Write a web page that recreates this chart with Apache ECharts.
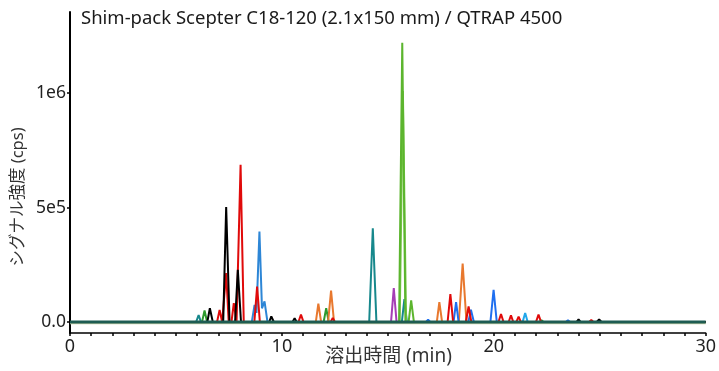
<!DOCTYPE html>
<html><head><meta charset="utf-8">
<script src="https://cdn.jsdelivr.net/npm/echarts@6/dist/echarts.min.js"></script>
<style>html,body{margin:0;padding:0;background:#fff}#c{width:719px;height:371px}</style>
</head><body><div id="c"></div>
<script>
const titleText = 'Shim-pack Scepter C18-120 (2.1x150 mm) / QTRAP 4500';
const xName = '溶出時間 (min)';
const yName = 'シグナル強度 (cps)';
const xTickValues = [0, 10, 20, 30];
const yTickValues = [0, 500000, 1000000];
const yTickLabels = ['0.0', '5e5', '1e6'];

// traces: [retention time (min), intensity (cps)]
const black = [[0,0],[6.48,0],[6.6,60000],[6.74,0],[7.23,0],[7.37,503000],[7.53,0],[7.79,0],[7.92,228000],[8.07,0],[9.4,0],[9.5,25000],[9.62,0],[10.5,0],[10.6,16000],[10.7,0],[23.9,0],[24.0,12000],[24.1,0],[24.86,0],[24.97,12000],[25.08,0],[30,0]];
const red = [[0,0],[6.94,0],[7.06,53000],[7.18,0],[7.25,0],[7.37,214000],[7.49,0],[7.62,0],[7.73,83000],[7.86,0],[7.91,0],[8.05,687000],[8.2,0],[8.7,0],[8.83,155000],[8.96,0],[10.78,0],[10.9,32000],[11.02,0],[12.3,0],[12.4,18000],[12.5,0],[17.82,0],[17.95,122000],[18.08,0],[18.68,0],[18.81,68000],[18.94,0],[20.22,0],[20.34,35000],[20.46,0],[20.7,0],[20.81,29000],[20.92,0],[21.06,0],[21.17,24000],[21.28,0],[21.99,0],[22.11,32000],[22.23,0],[24.5,0],[24.6,9000],[24.7,0],[30,0]];
const steelBlue = [[0,0],[8.58,0],[8.71,75000],[8.8,40000],[8.94,396000],[9.06,60000],[9.18,90000],[9.32,0],[30,0]];
const lightBlue = [[0,0],[21.36,0],[21.48,39000],[21.6,0],[30,0]];
const blue = [[0,0],[16.8,0],[16.9,10000],[17.0,0],[18.1,0],[18.22,87000],[18.34,0],[18.8,0],[18.92,54000],[19.06,0],[19.84,0],[19.99,141000],[20.14,0],[23.4,0],[23.5,8000],[23.6,0],[30,0]];
const teal = [[0,0],[5.95,0],[6.07,30000],[6.18,0],[14.12,0],[14.29,410000],[14.46,0],[15.66,0],[15.78,100000],[15.9,0],[30,0]];
const green = [[0,0],[6.23,0],[6.35,50000],[6.47,0],[11.97,0],[12.09,61000],[12.21,0],[22.15,0],[22.25,8000],[22.35,0],[30,0]];
const lightGreen = [[0,0],[15.53,0],[15.68,1221000],[15.83,0],[15.98,0],[16.1,95000],[16.23,0],[30,0]];
const lightGreen2 = [[0,0],[15.56,0],[15.71,1010000],[15.86,0],[30,0]];
const orange = [[0,0],[11.6,0],[11.72,80000],[11.85,0],[12.18,0],[12.32,137000],[12.46,0],[17.31,0],[17.43,87000],[17.56,0],[18.35,0],[18.53,255000],[18.71,0],[30,0]];
const purple = [[0,0],[15.15,0],[15.28,148000],[15.41,0],[30,0]];
const baselinePale = [[0,-6000],[30,-6000]];
const baselineDark = [[0,0],[30,0]];

const FONT = "'Noto Sans', 'Noto Sans CJK JP', sans-serif";
const traces = [
  ['teal', teal, '#17888c'],
  ['green', green, '#2e9a2e'],
  ['orange', orange, '#e8782e'],
  ['purple', purple, '#a53db5'],
  ['lightBlue', lightBlue, '#22a7ea'],
  ['blue', blue, '#1f6ff0'],
  ['steelBlue', steelBlue, '#2d86d6'],
  ['lightGreen2', lightGreen2, '#78c64a'],
  ['lightGreen', lightGreen, '#5cb52e'],
  ['red', red, '#e00a0a'],
  ['black', black, '#000000']
];
const series = traces.map(([name, data, color]) => ({
  name, type: 'line', data, symbol: 'none', animation: false,
  lineStyle: { color, width: 2 }, z: 2
}));
series.push({ name: 'basePale', type: 'line', data: baselinePale, symbol: 'none', animation: false,
  lineStyle: { color: '#c9d1a6', width: 1.5 }, z: 3 });
series.push({ name: 'baseDark', type: 'line', data: baselineDark, symbol: 'none', animation: false,
  lineStyle: { color: '#1e5c52', width: 3 }, z: 4 });

const chart = echarts.init(document.getElementById('c'), null, { renderer: 'canvas' });
chart.setOption({
  animation: false,
  backgroundColor: '#fff',
  grid: { left: 70, right: 12, top: 12, bottom: 38, containLabel: false },
  xAxis: {
    type: 'value', min: 0, max: 30, interval: 10,
    axisLine: { onZero: false, lineStyle: { color: '#000', width: 1.5 } },
    axisTick: { show: true, length: 3, lineStyle: { color: '#000', width: 1.5 } },
    minorTick: { show: true, splitNumber: 10, length: 3, lineStyle: { color: '#000', width: 1.5 } },
    axisLabel: { fontSize: 18, color: '#222', margin: 5, fontFamily: FONT },
    splitLine: { show: false }
  },
  yAxis: {
    type: 'value', min: -48000, max: 1355000,
    axisLine: { show: true, onZero: false, lineStyle: { color: '#000', width: 2 } },
    axisTick: { show: true, length: 3, customValues: yTickValues, lineStyle: { color: '#000', width: 1.5 } },
    axisLabel: { customValues: yTickValues, fontSize: 17.5, color: '#222', margin: 4, fontFamily: FONT,
      formatter: v => { const i = yTickValues.indexOf(v); return i >= 0 ? yTickLabels[i] : ''; } },
    splitLine: { show: false }
  },
  graphic: [
    { type: 'text', left: 81, top: 9, style: { text: titleText, fontSize: 18.5, fill: '#1a1a1a', fontFamily: FONT } },
    { type: 'text', x: 388.5, y: 357, style: { text: xName, fontSize: 19, fill: '#333', fontFamily: FONT, align: 'center', verticalAlign: 'middle' } },
    { type: 'text', x: 18, y: 197, rotation: Math.PI / 2, style: { text: yName, fontSize: 16.5, fill: '#333', fontFamily: FONT, align: 'center', verticalAlign: 'middle' } }
  ],
  series
});
</script>
</body></html>
